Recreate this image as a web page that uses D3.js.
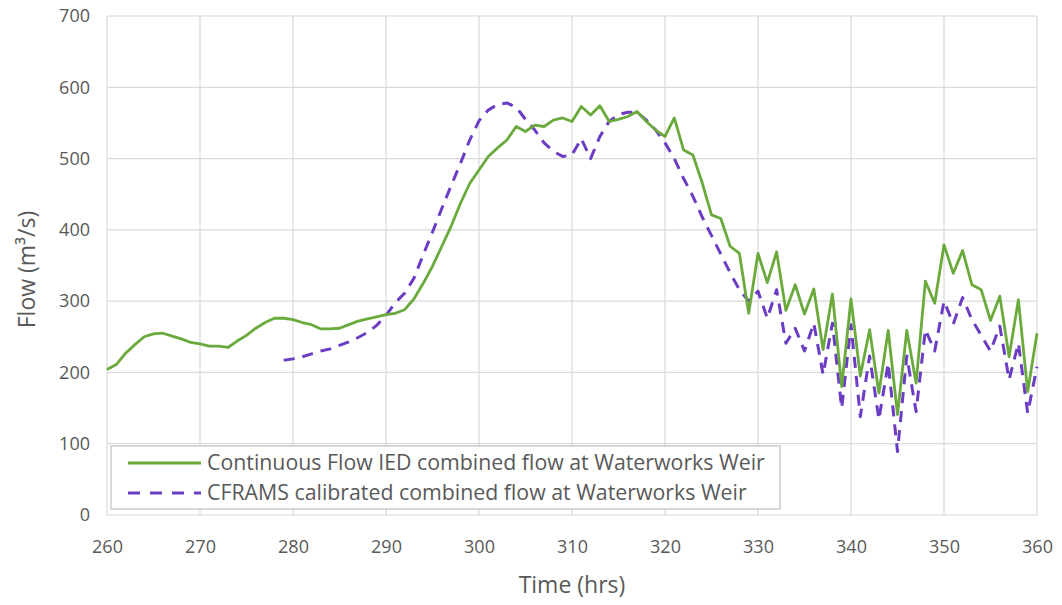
<!DOCTYPE html>
<html>
<head>
<meta charset="utf-8">
<script src="https://cdn.jsdelivr.net/npm/d3@7/dist/d3.min.js"></script>
<style>
  html, body { margin: 0; padding: 0; background: #ffffff; }
  svg { display: block; }
  text { font-family: "Open Sans", "Noto Sans", sans-serif; fill: #595959; }
</style>
</head>
<body>
<svg id="chart" width="1062" height="605"></svg>
<script>
// ---- data ----
const xTicks = [260, 270, 280, 290, 300, 310, 320, 330, 340, 350, 360];
const yTicks = [0, 100, 200, 300, 400, 500, 600, 700];

const greenStart = 260;
const greenValues = [
  204, 211, 227, 239, 250, 254, 255, 251, 247, 242,
  240, 237, 237, 235, 244, 252, 262, 270, 276, 276,
  274, 270, 267, 261, 261, 262, 267, 272, 275, 278,
  281, 283, 288, 303, 325, 349, 377, 405, 437, 465,
  484, 503, 515, 526, 545, 538, 547, 545, 554, 557,
  552, 573, 561, 574, 552, 555, 559, 566, 552, 540,
  531, 557, 512, 505, 466, 421, 416, 377, 367, 283,
  367, 326, 369, 287, 323, 282, 317, 232, 310, 180,
  303, 195, 260, 171, 259, 141, 259, 185, 328, 297,
  379, 339, 371, 323, 316, 273, 307, 222, 302, 173,
  255
];

const purpleStart = 279;
const purpleValues = [
  217, 219, 222, 226, 230, 233, 238, 243, 249, 256,
  266, 280, 298, 311, 332, 365, 397, 430, 462, 493,
  526, 553, 568, 576, 578, 572, 555, 540, 522, 510,
  503, 505, 528, 500, 531, 552, 562, 565, 565, 554,
  540, 522, 500, 472, 447, 418, 392, 366, 340, 316,
  300, 314, 276, 316, 241, 262, 230, 269, 197, 269,
  150, 267, 138, 223, 134, 213, 89, 223, 145, 260,
  230, 300, 268, 305, 274, 252, 230, 265, 190, 241,
  143, 208
];

const seriesNames = [
  "Continuous Flow IED combined flow at Waterworks Weir",
  "CFRAMS calibrated combined flow at Waterworks Weir"
];

const greenData = greenValues.map((v, i) => ({ t: greenStart + i, v }));
const purpleData = purpleValues.map((v, i) => ({ t: purpleStart + i, v }));

// ---- layout ----
const svg = d3.select("#chart");
const pLeft = 107, pRight = 1037, pTop = 16, pBottom = 515;
const x = d3.scaleLinear().domain([260, 360]).range([pLeft, pRight]);
const y = d3.scaleLinear().domain([0, 700]).range([pBottom, pTop]);

const GREEN = "#6aaa3c";
const PURPLE = "#6b3cc4";
const GRID = "#d9d9d9";

// gridlines
const grid = svg.append("g");
grid.selectAll("line.h").data(yTicks).enter().append("line")
  .attr("x1", pLeft).attr("x2", pRight)
  .attr("y1", d => y(d)).attr("y2", d => y(d))
  .attr("stroke", GRID).attr("stroke-width", 1.2);
grid.selectAll("line.v").data(xTicks).enter().append("line")
  .attr("y1", pTop).attr("y2", pBottom)
  .attr("x1", d => x(d)).attr("x2", d => x(d))
  .attr("stroke", GRID).attr("stroke-width", 1.2);

// axes via d3 axis (labels only)
const yAxis = svg.append("g")
  .attr("transform", `translate(${pLeft - 17},0)`)
  .call(d3.axisLeft(y).tickValues(yTicks).tickSize(0).tickPadding(0));
yAxis.select(".domain").remove();
yAxis.selectAll("text").attr("font-size", 18).attr("fill", "#595959")
  .style("font-family", '"Open Sans", sans-serif');

const xAxis = svg.append("g")
  .attr("transform", `translate(0,${pBottom + 25})`)
  .call(d3.axisBottom(x).tickValues(xTicks).tickSize(0).tickPadding(0));
xAxis.select(".domain").remove();
xAxis.selectAll("text").attr("font-size", 18).attr("fill", "#595959")
  .style("font-family", '"Open Sans", sans-serif');

// axis titles
svg.append("text")
  .attr("transform", `translate(35,${(pTop + pBottom) / 2 + 4}) rotate(-90)`)
  .attr("text-anchor", "middle").attr("font-size", 23)
  .text("Flow (m³/s)");
svg.append("text")
  .attr("x", 572).attr("y", 593)
  .attr("text-anchor", "middle").attr("font-size", 23)
  .text("Time (hrs)");

// lines
const line = d3.line().x(d => x(d.t)).y(d => y(d.v));
svg.append("path").datum(purpleData)
  .attr("d", line).attr("fill", "none")
  .attr("stroke", PURPLE).attr("stroke-width", 3)
  .attr("stroke-dasharray", "11,8")
  .attr("stroke-linejoin", "round");
svg.append("path").datum(greenData)
  .attr("d", line).attr("fill", "none")
  .attr("stroke", GREEN).attr("stroke-width", 2.8)
  .attr("stroke-linejoin", "round");

// legend
const lg = svg.append("g");
lg.append("rect")
  .attr("x", 111).attr("y", 446).attr("width", 669).attr("height", 63)
  .attr("fill", "#ffffff").attr("stroke", "#bfbfbf").attr("stroke-width", 1.2);
const rows = [
  { name: seriesNames[0], color: GREEN, dash: null, yy: 463 },
  { name: seriesNames[1], color: PURPLE, dash: "12,10", yy: 493 }
];
rows.forEach((r) => {
  lg.append("line")
    .attr("x1", 128).attr("x2", 201).attr("y1", r.yy).attr("y2", r.yy)
    .attr("stroke", r.color).attr("stroke-width", 3)
    .attr("stroke-dasharray", r.dash);
  lg.append("text").attr("class", "lgt")
    .attr("x", 207).attr("y", r.yy).attr("dy", "0.35em")
    .attr("font-size", 17).text(r.name);
});
// fit legend font to reference width
const t0 = lg.select("text.lgt").node();
const w0 = t0.getComputedTextLength();
const fs = 17 * 558 / w0;
lg.selectAll("text.lgt").attr("font-size", fs.toFixed(2));
</script>
</body>
</html>
